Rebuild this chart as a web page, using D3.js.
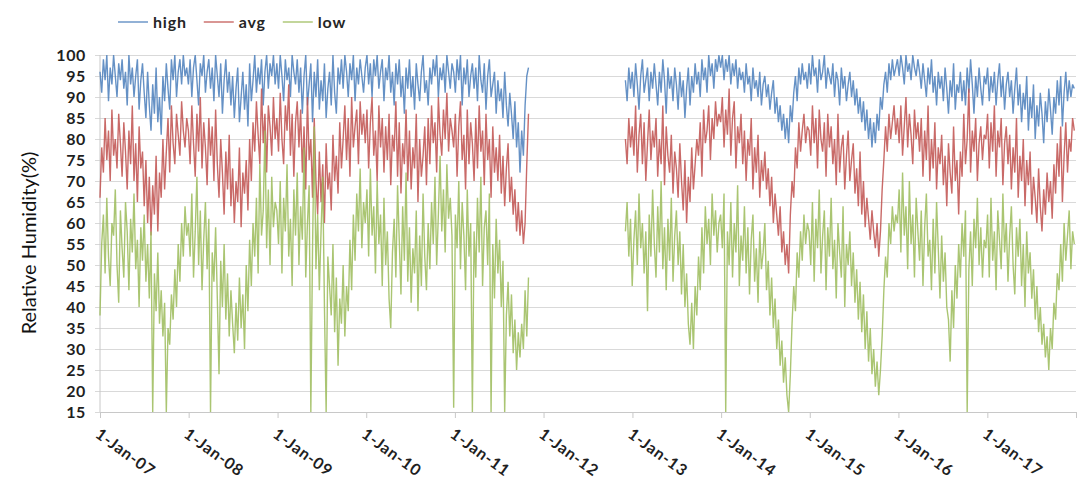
<!DOCTYPE html>
<html>
<head>
<meta charset="utf-8">
<script src="https://cdn.jsdelivr.net/npm/d3@7"></script>
<style>
  body { margin: 0; background: #fff; }
  text { font-family: Lato, "Open Sans", sans-serif; fill: #262626; }
</style>
</head>
<body>
<div id="chart"></div>
<script>
// weekly readings, two recording periods with a gap in 2012
var startA = new Date(2007, 0, 1);
var startB = new Date(2012, 11, 3);

var highA = [
  // 2007
  96, 91, 99, 94, 100, 89, 97, 93, 100, 95, 90, 98, 94,
  99, 92, 96, 88, 100, 93, 97, 90, 95, 99, 87, 94, 98,
  91, 85, 96, 88, 82, 93, 86, 97, 84, 90, 81, 95, 89,
  98, 92, 87, 99, 94, 100, 90, 96, 99, 93, 100, 95, 97,
  // 2008
  93, 99, 90, 97, 100, 94, 88, 98, 95, 100, 91, 96, 99,
  92, 97, 89, 100, 95, 90, 98, 86, 94, 99, 91, 96, 88,
  95, 85, 92, 97, 84, 90, 96, 87, 93, 83, 98, 89, 94,
  100, 91, 97, 93, 99, 88, 96, 100, 92, 98, 95, 100, 93,
  // 2009
  98, 92, 100, 95, 89, 99, 94, 97, 90, 100, 96, 93, 99,
  91, 97, 86, 95, 100, 88, 93, 98, 84, 96, 90, 99, 87,
  94, 89, 98, 85, 92, 96, 88, 100, 91, 86, 97, 93, 99,
  92, 100, 96, 90, 98, 94, 100, 89, 97, 93, 99, 95, 91,
  // 2010
  97, 100, 93, 98, 90, 99, 95, 100, 92, 96, 99, 89, 97,
  94, 100, 91, 96, 88, 98, 93, 99, 90, 95, 86, 97, 92,
  99, 90, 95, 87, 98, 93, 89, 96, 100, 91, 94, 88, 97,
  93, 99, 95, 100, 90, 97, 94, 98, 91, 100, 96, 92, 98,
  // 2011
  96, 91, 99, 94, 100, 88, 97, 93, 99, 90, 95, 98, 92,
  97, 89, 100, 94, 91, 98, 87, 95, 99, 90, 93, 96, 86,
  94, 89, 92, 85, 96, 88, 83, 91, 86, 80, 89, 78, 84,
  72, 82, 76, 88, 95, 97
];
var avgA = [
  // 2007
  66, 78, 72, 85, 75, 82, 70, 87, 76, 80, 73, 86, 79,
  71, 84, 77, 68, 82, 74, 88, 70, 79, 65, 83, 73, 77,
  64, 75, 60, 71, 57, 69, 62, 76, 58, 72, 66, 80, 68,
  77, 85, 72, 88, 79, 74, 86, 81, 76, 89, 82, 78, 85,
  // 2008
  82, 74, 88, 79, 71, 86, 77, 90, 73, 84, 78, 69, 85,
  76, 83, 70, 87, 74, 66, 80, 72, 62, 77, 68, 81, 64,
  73, 60, 70, 65, 78, 59, 72, 67, 75, 63, 80, 70, 84,
  77, 89, 81, 74, 92, 79, 86, 72, 88, 83, 76, 90, 80,
  // 2009
  85, 77, 91, 80, 74, 88, 82, 93, 76, 86, 71, 84, 89,
  78, 87, 72, 83, 68, 90, 75, 80, 66, 85, 70, 62, 77,
  65, 74, 60, 79, 68, 72, 63, 81, 70, 76, 67, 84, 73,
  80, 88, 75, 85, 71, 90, 78, 83, 87, 74, 89, 81, 86,
  // 2010
  79, 87, 73, 84, 90, 76, 82, 70, 88, 78, 85, 72, 83,
  75, 86, 69, 81, 77, 89, 71, 84, 67, 79, 74, 87, 70,
  82, 68, 78, 73, 86, 65, 80, 71, 76, 83, 69, 85, 74,
  88, 79, 84, 72, 90, 81, 76, 87, 80, 91, 77, 85, 82,
  // 2011
  78, 86, 71, 83, 89, 75, 81, 68, 87, 74, 84, 79, 70,
  85, 73, 88, 77, 82, 69, 86, 75, 80, 66, 83, 72, 78,
  70, 81, 67, 76, 64, 73, 79, 65, 71, 62, 68, 58, 65,
  57, 63, 55, 60, 74, 86
];
var lowA = [
  // 2007
  38, 55, 62, 48, 66, 52, 45, 60, 57, 68, 50, 41, 63,
  54, 47, 65, 58, 44, 61, 53, 67, 49, 56, 40, 59, 51,
  62, 46, 55, 42, 58, 15, 48, 39, 53, 36, 44, 33, 41,
  15, 35, 31, 43, 37, 49, 40, 55, 46, 60, 52, 64, 57,
  // 2008
  60, 52, 67, 47, 58, 71, 50, 63, 44, 56, 65, 49, 61,
  15, 53, 46, 59, 42, 24, 51, 40, 55, 37, 48, 33, 44,
  36, 29, 41, 32, 47, 35, 43, 30, 50, 39, 56, 45, 60,
  52, 66, 48, 74, 57, 63, 82, 54, 68, 50, 71, 59, 65,
  // 2009
  63, 55, 70, 48, 66, 58, 74, 52, 61, 45, 68, 57, 72,
  50, 64, 56, 78, 47, 60, 69, 15, 54, 83, 49, 62, 44,
  58, 71, 40, 15, 52, 45, 38, 55, 34, 47, 26, 42, 36,
  50, 33, 45, 39, 56, 44, 62, 51, 67, 58, 73, 54, 65,
  // 2010
  60, 68, 52, 73, 57, 64, 48, 70, 55, 62, 45, 66, 50,
  58, 42, 35, 53, 61, 47, 69, 56, 43, 64, 51, 72, 46,
  59, 41, 54, 48, 63, 39, 57, 45, 67, 52, 44, 60, 49,
  65, 55, 71, 50, 62, 76, 58, 68, 53, 74, 61, 66, 57,
  // 2011
  16, 62, 54, 70, 49, 65, 57, 44, 68, 52, 60, 15, 58,
  47, 66, 53, 71, 45, 59, 63, 50, 67, 15, 55, 42, 61,
  48, 56, 40, 51, 15, 38, 46, 33, 43, 29, 37, 25, 34,
  28, 36, 30, 44, 33, 47
];

var highB = [
  94, 89, 97, 92,
  // 2013
  96, 90, 98, 93, 87, 95, 99, 91, 94, 97, 89, 96, 92,
  98, 93, 88, 96, 91, 99, 94, 86, 97, 92, 95, 89, 97,
  93, 87, 96, 90, 94, 85, 92, 97, 88, 95, 91, 98, 93,
  96, 90, 99, 94, 97, 91, 100, 95, 98, 92, 99, 96, 100,
  // 2014
  97, 100, 94, 99, 96, 100, 93, 98, 95, 99, 92, 97, 94,
  96, 91, 98, 93, 95, 89, 97, 92, 94, 90, 96, 88, 93,
  95, 90, 93, 87, 91, 94, 86, 90, 84, 88, 82, 86, 80,
  85, 79, 88, 84, 91, 95, 89, 97, 93, 98, 94, 96, 92,
  // 2015
  98, 93, 100, 95, 97, 91, 99, 94, 96, 100, 92, 97, 95,
  93, 98, 90, 96, 94, 88, 97, 92, 95, 89, 93, 96, 90,
  94, 88, 92, 86, 90, 84, 89, 82, 87, 80, 85, 78, 84,
  79, 86, 82, 90, 87, 93, 96, 91, 98, 94, 99, 95, 97,
  // 2016
  99, 95, 100, 97, 93, 100, 96, 98, 94, 100, 97, 95, 99,
  96, 92, 98, 94, 90, 97, 93, 99, 91, 95, 88, 96, 92,
  95, 89, 97, 92, 86, 94, 90, 98, 87, 93, 91, 96, 89,
  94, 88, 97, 91, 99, 93, 86, 95, 90, 97, 92, 88, 95,
  // 2017
  93, 97, 89, 95, 91, 96, 88, 94, 98, 90, 95, 87, 93,
  96, 90, 94, 86, 92, 97, 88, 93, 84, 91, 87, 95, 82,
  90, 85, 93, 80, 88, 83, 91, 86, 79, 89, 84, 92, 87,
  81, 90, 86, 94, 88, 95, 83, 91, 96, 89, 94, 90, 93,
  92
];
var avgB = [
  80, 74, 85, 78,
  // 2013
  83, 76, 88, 72, 81, 86, 74, 84, 70, 79, 87, 75, 82,
  78, 85, 71, 80, 74, 88, 69, 83, 76, 72, 81, 67, 77,
  73, 66, 79, 70, 63, 75, 60, 71, 65, 78, 68, 74, 80,
  76, 84, 71, 87, 79, 82, 88, 75, 85, 80, 89, 83, 86,
  // 2014
  84, 90, 78, 87, 81, 92, 76, 85, 89, 73, 83, 79, 86,
  74, 82, 70, 80, 76, 85, 68, 78, 72, 81, 66, 75, 70,
  77, 68, 73, 64, 71, 60, 67, 62, 57, 64, 53, 58, 50,
  55, 48, 62, 70, 66, 78, 73, 84, 77, 82, 86, 79, 83,
  // 2015
  82, 76, 88, 79, 85, 73, 87, 80, 77, 84, 71, 86, 78,
  83, 74, 80, 69, 86, 72, 78, 81, 68, 76, 82, 70, 75,
  79, 67, 73, 64, 77, 62, 70, 59, 66, 61, 56, 63, 58,
  54, 60, 52, 58, 68, 75, 83, 77, 86, 80, 84, 88, 81,
  // 2016
  85, 79, 88, 76, 83, 90, 78, 86, 81, 74, 87, 80, 84,
  77, 85, 71, 82, 75, 88, 70, 80, 73, 84, 68, 78, 74,
  81, 69, 76, 64, 79, 72, 67, 83, 70, 75, 62, 77, 71,
  86, 74, 80, 92, 72, 82, 77, 85, 70, 79, 83, 75, 81,
  // 2017
  80, 86, 73, 84, 77, 88, 71, 82, 78, 85, 69, 79, 83,
  74, 81, 68, 78, 72, 85, 66, 76, 70, 80, 64, 75, 69,
  77, 62, 71, 66, 60, 73, 64, 58, 68, 62, 72, 65, 70,
  61, 74, 67, 79, 71, 83, 65, 76, 84, 72, 80, 77, 85,
  82
];
var lowB = [
  58, 65, 52, 61,
  // 2013
  45, 56, 63, 50, 67, 54, 60, 48, 58, 39, 62, 52, 68,
  55, 47, 64, 53, 70, 49, 59, 44, 61, 51, 66, 46, 57,
  63, 50, 58, 43, 55, 40, 48, 36, 31, 41, 30, 45, 38,
  52, 44, 59, 48, 64, 55, 61, 50, 67, 57, 63, 53, 60,
  // 2014
  62, 54, 67, 15, 58, 50, 65, 47, 60, 53, 69, 45, 57,
  51, 64, 48, 59, 43, 56, 62, 46, 54, 41, 58, 49, 53,
  60, 44, 51, 38, 47, 35, 42, 30, 37, 26, 32, 22, 28,
  19, 15, 24, 36, 45, 39, 53, 47, 58, 51, 62, 55, 60,
  // 2015
  58, 50, 65, 46, 61, 54, 68, 48, 57, 63, 44, 59, 52,
  66, 49, 56, 42, 60, 53, 47, 64, 40, 55, 50, 58, 45,
  53, 41, 49, 37, 46, 34, 43, 30, 39, 27, 35, 24, 30,
  21, 27, 19, 25, 33, 44, 52, 47, 60, 55, 64, 58, 62,
  // 2016
  60, 68, 53, 72, 57, 64, 49, 70, 55, 62, 47, 66, 58,
  51, 63, 45, 59, 67, 52, 56, 44, 61, 48, 65, 54, 42,
  57, 46, 53, 40, 37, 27, 44, 35, 50, 42, 55, 47, 60,
  52, 63, 15, 49, 58, 45, 61, 54, 66, 50, 59, 47, 56,
  // 2017
  54, 62, 47, 66, 51, 58, 44, 63, 56, 49, 67, 53, 60,
  46, 57, 64, 50, 43, 59, 52, 61, 45, 55, 40, 58, 48,
  53, 42, 49, 37, 45, 34, 40, 31, 36, 28, 33, 25, 35,
  30, 41, 37, 48, 44, 55, 46, 60, 51, 57, 63, 49, 58,
  55
];

var yTicks = d3.range(15, 101, 5);
var tickYears = d3.range(2007, 2019);
var seriesNames = ["high", "avg", "low"];
var colors = { high: "#4A7EBB", avg: "#C0504D", low: "#9BBB59" };

var width = 1088, height = 479;
var plotLeft = 100, plotRight = 1076, plotTop = 55, plotBottom = 412;

var svg = d3.select("#chart").append("svg")
  .attr("width", width)
  .attr("height", height);

var x = d3.scaleTime()
  .domain([new Date(2007, 0, 1), new Date(2018, 0, 1)])
  .range([plotLeft, plotRight]);
var y = d3.scaleLinear()
  .domain([15, 100])
  .range([plotBottom, plotTop]);

// horizontal gridlines + y labels
var yAxis = svg.append("g")
  .attr("transform", "translate(" + plotLeft + ",0)")
  .call(d3.axisLeft(y).tickValues(yTicks).tickSize(-(plotRight - plotLeft)).tickPadding(14));
yAxis.select(".domain").remove();
yAxis.selectAll(".tick line")
  .attr("x1", -5)
  .attr("stroke", "#d9d9d9");
yAxis.selectAll(".tick text")
  .style("font-size", "16px")
  .style("font-weight", "bold")
  .style("letter-spacing", "0.6px")
  .style("fill", "#1f1f1f");

// left axis line
svg.append("line")
  .attr("x1", plotLeft).attr("x2", plotLeft)
  .attr("y1", plotTop).attr("y2", plotBottom)
  .attr("stroke", "#c8c8c8");

// x axis
var fmt = d3.timeFormat("%-d-%b-%y");
var xAxis = svg.append("g")
  .attr("transform", "translate(0," + plotBottom + ")")
  .call(d3.axisBottom(x)
    .tickValues(tickYears.map(function(yr){ return new Date(yr, 0, 1); }))
    .tickSize(6)
    .tickSizeOuter(0)
    .tickFormat(function(d){ return d.getFullYear() < 2018 ? fmt(d) : ""; }));
xAxis.select(".domain").attr("stroke", "#c8c8c8");
xAxis.selectAll(".tick line").attr("stroke", "#c8c8c8");
xAxis.selectAll(".tick text")
  .attr("text-anchor", "start")
  .attr("x", 0).attr("y", 0)
  .attr("dy", "0.35em")
  .attr("transform", "translate(-3,20) rotate(36)")
  .style("font-size", "16px")
  .style("font-weight", "bold")
  .style("letter-spacing", "0.8px")
  .style("fill", "#1f1f1f");

// y title
svg.append("text")
  .attr("transform", "translate(36,243) rotate(-90)")
  .attr("text-anchor", "middle")
  .style("font-size", "20px")
  .style("fill", "#111")
  .text("Relative Humidity(%)");

// series
function toPoints(values, start) {
  return values.map(function(v, i){
    return { date: d3.timeDay.offset(start, 7 * i), value: v };
  });
}
var seriesData = {
  high: [toPoints(highA, startA), toPoints(highB, startB)],
  avg:  [toPoints(avgA, startA),  toPoints(avgB, startB)],
  low:  [toPoints(lowA, startA),  toPoints(lowB, startB)]
};

var line = d3.line()
  .x(function(d){ return x(d.date); })
  .y(function(d){ return y(d.value); });

seriesNames.forEach(function(name){
  svg.append("g")
    .attr("class", name)
    .selectAll("path")
    .data(seriesData[name])
    .enter()
    .append("path")
    .attr("d", line)
    .attr("fill", "none")
    .attr("stroke", colors[name])
    .attr("stroke-width", 1.4)
    .attr("stroke-linejoin", "bevel")
    .attr("stroke-opacity", 0.85);
});

// legend
var legend = svg.append("g").attr("transform", "translate(118,22)");
var lx = 0;
seriesNames.forEach(function(name){
  legend.append("line")
    .attr("x1", lx).attr("x2", lx + 30)
    .attr("y1", 0).attr("y2", 0)
    .attr("stroke", colors[name])
    .attr("stroke-width", 1.5)
    .attr("stroke-opacity", 0.8);
  var t = legend.append("text")
    .attr("x", lx + 35)
    .attr("dy", "0.35em")
    .style("font-size", "16px")
    .style("font-weight", "bold")
    .style("letter-spacing", "0.8px")
    .text(name);
  lx += 35 + t.node().getComputedTextLength() + 17;
});
</script>
</body>
</html>
